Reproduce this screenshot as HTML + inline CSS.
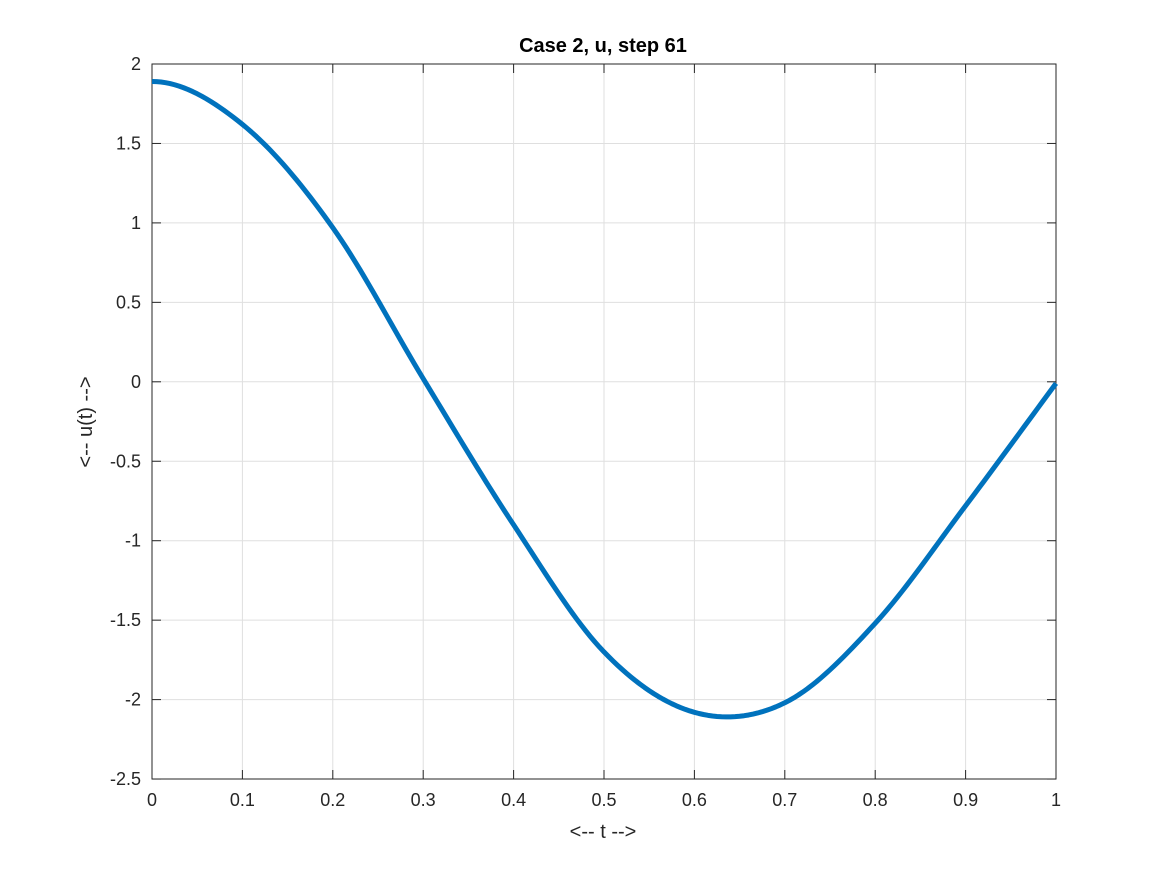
<!DOCTYPE html>
<html><head><meta charset="utf-8"><style>
html,body{margin:0;padding:0;background:#fff;}
svg text{font-family:"Liberation Sans","DejaVu Sans",sans-serif;fill:#262626;}
</style></head><body>
<svg id="s" width="1167" height="875" viewBox="0 0 1167 875" xmlns="http://www.w3.org/2000/svg">
<rect width="1167" height="875" fill="#fff"/>
<g id="grid" stroke="#dfdfdf" stroke-width="1"></g>
<g id="ticks" stroke="#262626" stroke-width="1"></g>
<rect x="152" y="64" width="904" height="715" fill="none" stroke="#262626" stroke-width="1"/>
<path id="curve" fill="none" stroke="#0072bd" stroke-width="5" stroke-linejoin="round"/>
<g id="labels" font-size="18"></g>
<text x="603" y="52" font-size="20" font-weight="bold" text-anchor="middle" style="fill:#000">Case 2, u, step 61</text>
<text x="603" y="838" font-size="20" text-anchor="middle">&lt;-- t --&gt;</text>
<text x="0" y="0" font-size="20" text-anchor="middle" transform="translate(92,422) rotate(-90)">&lt;-- u(t) --&gt;</text>
</svg>
<script>
var NS="http://www.w3.org/2000/svg";
function X(t){return 152+t*904;}
function Y(u){return 381.8-u*158.9;}
var g=document.getElementById('grid'),tk=document.getElementById('ticks'),lb=document.getElementById('labels');
function line(p,x1,y1,x2,y2){var l=document.createElementNS(NS,'line');l.setAttribute('x1',x1);l.setAttribute('y1',y1);l.setAttribute('x2',x2);l.setAttribute('y2',y2);p.appendChild(l);}
function txt(x,y,s,a){var t=document.createElementNS(NS,'text');t.setAttribute('x',x);t.setAttribute('y',y);t.setAttribute('text-anchor',a);t.textContent=s;lb.appendChild(t);}
for(var i=0;i<=10;i++){var x=X(i/10);if(i>0&&i<10)line(g,x,64,x,779);
 line(tk,x,779,x,770);line(tk,x,64,x,73);
 txt(x,806,i==0?'0':(i==10?'1':(i/10).toFixed(1)),'middle');}
for(var j=0;j<=9;j++){var u=2-j*0.5,y=Y(u);if(j>0&&j<9)line(g,152,y,1056,y);
 line(tk,152,y,161,y);line(tk,1056,y,1047,y);
 txt(141,y+6,String(u),'end');}
var U=[1.89,1.62,0.97,0.02,-0.9,-1.70,-2.08,-2.02,-1.52,-0.78,-0.01];
var n=U.length;
function get(k){if(k<0)return U[-k];if(k>=n)return 2*U[n-1]-U[2*(n-1)-k];return U[k];}
var d='';
for(var k=0;k<n-1;k++){
 var p0=get(k-1),p1=get(k),p2=get(k+1),p3=get(k+2);
 for(var s=0;s<=20;s++){var t=s/20;
  var v=0.5*((2*p1)+(-p0+p2)*t+(2*p0-5*p1+4*p2-p3)*t*t+(-p0+3*p1-3*p2+p3)*t*t*t);
  var xx=X((k+t)/10),yy=Y(v);
  d+=(d?' L':'M')+xx.toFixed(2)+','+yy.toFixed(2);}
}
document.getElementById('curve').setAttribute('d',d);
</script>
</body></html>
